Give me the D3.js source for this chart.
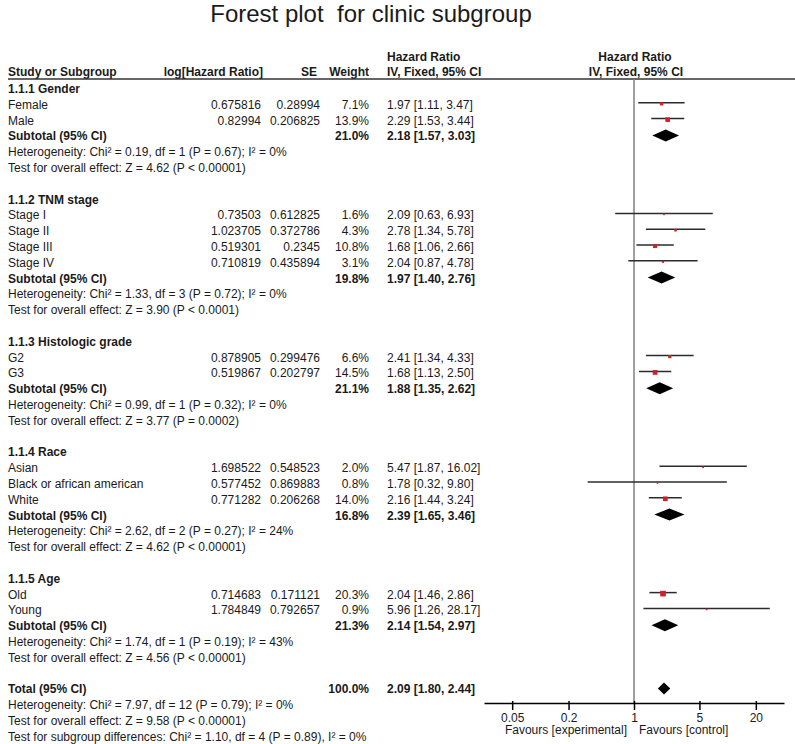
<!DOCTYPE html>
<html>
<head>
<meta charset="utf-8">
<script src="https://cdn.jsdelivr.net/npm/d3@7"></script>
<style>
  body { margin: 0; background: #fff; }
  svg { font-family: "Liberation Sans", Arial, sans-serif; }
  .txt { font-size: 12px; fill: #1a1a1a; }
  .bold { font-weight: bold; }
  .axis text { font-size: 12px; fill: #1a1a1a; font-family: "Liberation Sans", Arial, sans-serif; }
</style>
</head>
<body>
<div id="chart"></div>
<script>
// ---- data ----
var groupNames = ["1.1.1 Gender", "1.1.2 TNM stage", "1.1.3 Histologic grade", "1.1.4 Race", "1.1.5 Age"];
var studyGroup = [0, 0, 1, 1, 1, 1, 2, 2, 3, 3, 3, 4, 4];
var studyNames = ["Female", "Male", "Stage I", "Stage II", "Stage III", "Stage IV", "G2", "G3",
   "Asian", "Black or african american", "White", "Old", "Young"];
var logHR = [0.675816, 0.82994, 0.73503, 1.023705, 0.519301, 0.710819, 0.878905, 0.519867,
   1.698522, 0.577452, 0.771282, 0.714683, 1.784849];
var seVals = [0.28994, 0.206825, 0.612825, 0.372786, 0.2345, 0.435894, 0.299476, 0.202797,
   0.548523, 0.869883, 0.206268, 0.171121, 0.792657];
var weights = [7.1, 13.9, 1.6, 4.3, 10.8, 3.1, 6.6, 14.5, 2.0, 0.8, 14.0, 20.3, 0.9];
var hr = [1.97, 2.29, 2.09, 2.78, 1.68, 2.04, 2.41, 1.68, 5.47, 1.78, 2.16, 2.04, 5.96];
var hrLow = [1.11, 1.53, 0.63, 1.34, 1.06, 0.87, 1.34, 1.13, 1.87, 0.32, 1.44, 1.46, 1.26];
var hrHigh = [3.47, 3.44, 6.93, 5.78, 2.66, 4.78, 4.33, 2.50, 16.02, 9.80, 3.24, 2.86, 28.17];

var subWeight = [21.0, 19.8, 21.1, 16.8, 21.3];
var subHR = [2.18, 1.97, 1.88, 2.39, 2.14];
var subLow = [1.57, 1.40, 1.35, 1.65, 1.54];
var subHigh = [3.03, 2.76, 2.62, 3.46, 2.97];
var hetText = [
   "Heterogeneity: Chi\u00b2 = 0.19, df = 1 (P = 0.67); I\u00b2 = 0%",
   "Heterogeneity: Chi\u00b2 = 1.33, df = 3 (P = 0.72); I\u00b2 = 0%",
   "Heterogeneity: Chi\u00b2 = 0.99, df = 1 (P = 0.32); I\u00b2 = 0%",
   "Heterogeneity: Chi\u00b2 = 2.62, df = 2 (P = 0.27); I\u00b2 = 24%",
   "Heterogeneity: Chi\u00b2 = 1.74, df = 1 (P = 0.19); I\u00b2 = 43%"
];
var effectText = [
   "Test for overall effect: Z = 4.62 (P < 0.00001)",
   "Test for overall effect: Z = 3.90 (P < 0.0001)",
   "Test for overall effect: Z = 3.77 (P = 0.0002)",
   "Test for overall effect: Z = 4.62 (P < 0.00001)",
   "Test for overall effect: Z = 4.56 (P < 0.00001)"
];
var totalWeight = 100.0;
var totalHR = [2.09, 1.80, 2.44];
var totalNotes = [
   "Heterogeneity: Chi\u00b2 = 7.97, df = 12 (P = 0.79); I\u00b2 = 0%",
   "Test for overall effect: Z = 9.58 (P < 0.00001)",
   "Test for subgroup differences: Chi\u00b2 = 1.10, df = 4 (P = 0.89), I\u00b2 = 0%"
];
var axisTicks = [0.05, 0.2, 1, 5, 20];
var favourLabels = ["Favours [experimental]", "Favours [control]"];

// ---- layout ----
var width = 795, height = 744;
var col = { name: 8, logHR: 261, se: 320, weight: 369, ci: 387 };
var axisY = 703;

var svg = d3.select("#chart").append("svg")
   .attr("width", width)
   .attr("height", height);

svg.append("rect").attr("width", width).attr("height", height).attr("fill", "#fff");

var x = d3.scaleLog().domain([0.025, 40]).range([484, 784]);

// build the table rows
var rows = [];
groupNames.forEach(function (g, gi) {
   rows.push({ type: "group", label: g });
   studyGroup.forEach(function (sg, i) {
      if (sg === gi) rows.push({ type: "study", i: i });
   });
   rows.push({ type: "subtotal", g: gi });
   rows.push({ type: "note", label: hetText[gi] });
   rows.push({ type: "note", label: effectText[gi] });
   rows.push({ type: "blank" });
});
rows.push({ type: "total" });
totalNotes.forEach(function (t) { rows.push({ type: "note", label: t }); });

var rowY = d3.scaleLinear().domain([0, rows.length - 1]).range([89, 89 + (rows.length - 1) * 15.8]);

// title
svg.append("text")
   .attr("x", 371).attr("y", 22)
   .attr("text-anchor", "middle")
   .attr("font-size", 24)
   .attr("fill", "#1a1a1a")
   .style("white-space", "pre")
   .text("Forest plot  for clinic subgroup");

// headers
var hdr = svg.append("g").attr("class", "txt bold");
hdr.append("text").attr("x", col.ci).attr("y", 61).text("Hazard Ratio");
hdr.append("text").attr("x", 635).attr("y", 61).attr("text-anchor", "middle").text("Hazard Ratio");
hdr.append("text").attr("x", col.name).attr("y", 76).text("Study or Subgroup");
hdr.append("text").attr("x", 263).attr("y", 76).attr("text-anchor", "end").text("log[Hazard Ratio]");
hdr.append("text").attr("x", 317).attr("y", 76).attr("text-anchor", "end").text("SE");
hdr.append("text").attr("x", col.weight).attr("y", 76).attr("text-anchor", "end").text("Weight");
hdr.append("text").attr("x", col.ci).attr("y", 76).text("IV, Fixed, 95% CI");
hdr.append("text").attr("x", 636).attr("y", 76).attr("text-anchor", "middle").text("IV, Fixed, 95% CI");

svg.append("line")
   .attr("x1", 8).attr("x2", 795).attr("y1", 79).attr("y2", 79)
   .attr("stroke", "#333").attr("stroke-width", 1.5);

// line of no effect
svg.append("line")
   .attr("x1", x(1)).attr("x2", x(1)).attr("y1", 79).attr("y2", axisY)
   .attr("stroke", "#808080").attr("stroke-width", 1.5);

// table text
var body = svg.append("g").attr("class", "txt");
var fmt2 = d3.format(".2f"), fmt1 = d3.format(".1f");
function ciLabel(a, b, c) { return fmt2(a) + " [" + fmt2(b) + ", " + fmt2(c) + "]"; }

rows.forEach(function (r, k) {
   var y = rowY(k) + 4;
   if (r.type === "group") {
      body.append("text").attr("class", "bold").attr("x", col.name).attr("y", y).text(r.label);
   } else if (r.type === "note") {
      body.append("text").attr("x", col.name).attr("y", y).text(r.label);
   } else if (r.type === "study") {
      var i = r.i;
      body.append("text").attr("x", col.name).attr("y", y).text(studyNames[i]);
      body.append("text").attr("x", col.logHR).attr("y", y).attr("text-anchor", "end").text(logHR[i]);
      body.append("text").attr("x", col.se).attr("y", y).attr("text-anchor", "end").text(seVals[i]);
      body.append("text").attr("x", col.weight).attr("y", y).attr("text-anchor", "end").text(fmt1(weights[i]) + "%");
      body.append("text").attr("x", col.ci).attr("y", y).text(ciLabel(hr[i], hrLow[i], hrHigh[i]));
   } else if (r.type === "subtotal") {
      var g = r.g;
      body.append("text").attr("class", "bold").attr("x", col.name).attr("y", y).text("Subtotal (95% CI)");
      body.append("text").attr("class", "bold").attr("x", col.weight).attr("y", y).attr("text-anchor", "end").text(fmt1(subWeight[g]) + "%");
      body.append("text").attr("class", "bold").attr("x", col.ci).attr("y", y).text(ciLabel(subHR[g], subLow[g], subHigh[g]));
   } else if (r.type === "total") {
      body.append("text").attr("class", "bold").attr("x", col.name).attr("y", y).text("Total (95% CI)");
      body.append("text").attr("class", "bold").attr("x", col.weight).attr("y", y).attr("text-anchor", "end").text(fmt1(totalWeight) + "%");
      body.append("text").attr("class", "bold").attr("x", col.ci).attr("y", y).text(ciLabel(totalHR[0], totalHR[1], totalHR[2]));
   }
});

// plot marks
var marks = svg.append("g");
function diamond(cy, lo, mid, hi) {
   var h = 6;
   return "M" + x(lo) + "," + cy + "L" + x(mid) + "," + (cy - h) +
      "L" + x(hi) + "," + cy + "L" + x(mid) + "," + (cy + h) + "Z";
}
rows.forEach(function (r, k) {
   var cy = rowY(k) - 2;
   if (r.type === "study") {
      var i = r.i;
      marks.append("line")
         .attr("x1", x(hrLow[i])).attr("x2", x(hrHigh[i]))
         .attr("y1", cy).attr("y2", cy)
         .attr("stroke", "#2b2b2b").attr("stroke-width", 1.5);
      var s = Math.max(1.6, 1.25 * Math.sqrt(weights[i]));
      marks.append("rect")
         .attr("x", x(hr[i]) - s / 2).attr("y", cy + 1 - s / 2)
         .attr("width", s).attr("height", s)
         .attr("fill", "#d0202a");
   } else if (r.type === "subtotal") {
      marks.append("path").attr("d", diamond(cy + 1, subLow[r.g], subHR[r.g], subHigh[r.g])).attr("fill", "#000");
   } else if (r.type === "total") {
      marks.append("path").attr("d", diamond(cy + 1, totalHR[1], totalHR[0], totalHR[2])).attr("fill", "#000");
   }
});

// axis
var xAxis = d3.axisBottom(x)
   .tickValues(axisTicks)
   .tickFormat(function (d) { return d; })
   .tickSize(7)
   .tickSizeOuter(0);

var gX = svg.append("g")
   .attr("class", "axis")
   .attr("transform", "translate(0," + axisY + ")")
   .call(xAxis);
gX.select(".domain").attr("stroke", "#000").attr("stroke-width", 1.5);
gX.selectAll(".tick line").attr("y1", -2).attr("stroke", "#000").attr("stroke-width", 1.5);

svg.append("text").attr("class", "txt")
   .attr("x", x(1) - 7).attr("y", 734).attr("text-anchor", "end").text(favourLabels[0]);
svg.append("text").attr("class", "txt")
   .attr("x", x(1) + 5).attr("y", 734).text(favourLabels[1]);
</script>
</body>
</html>
